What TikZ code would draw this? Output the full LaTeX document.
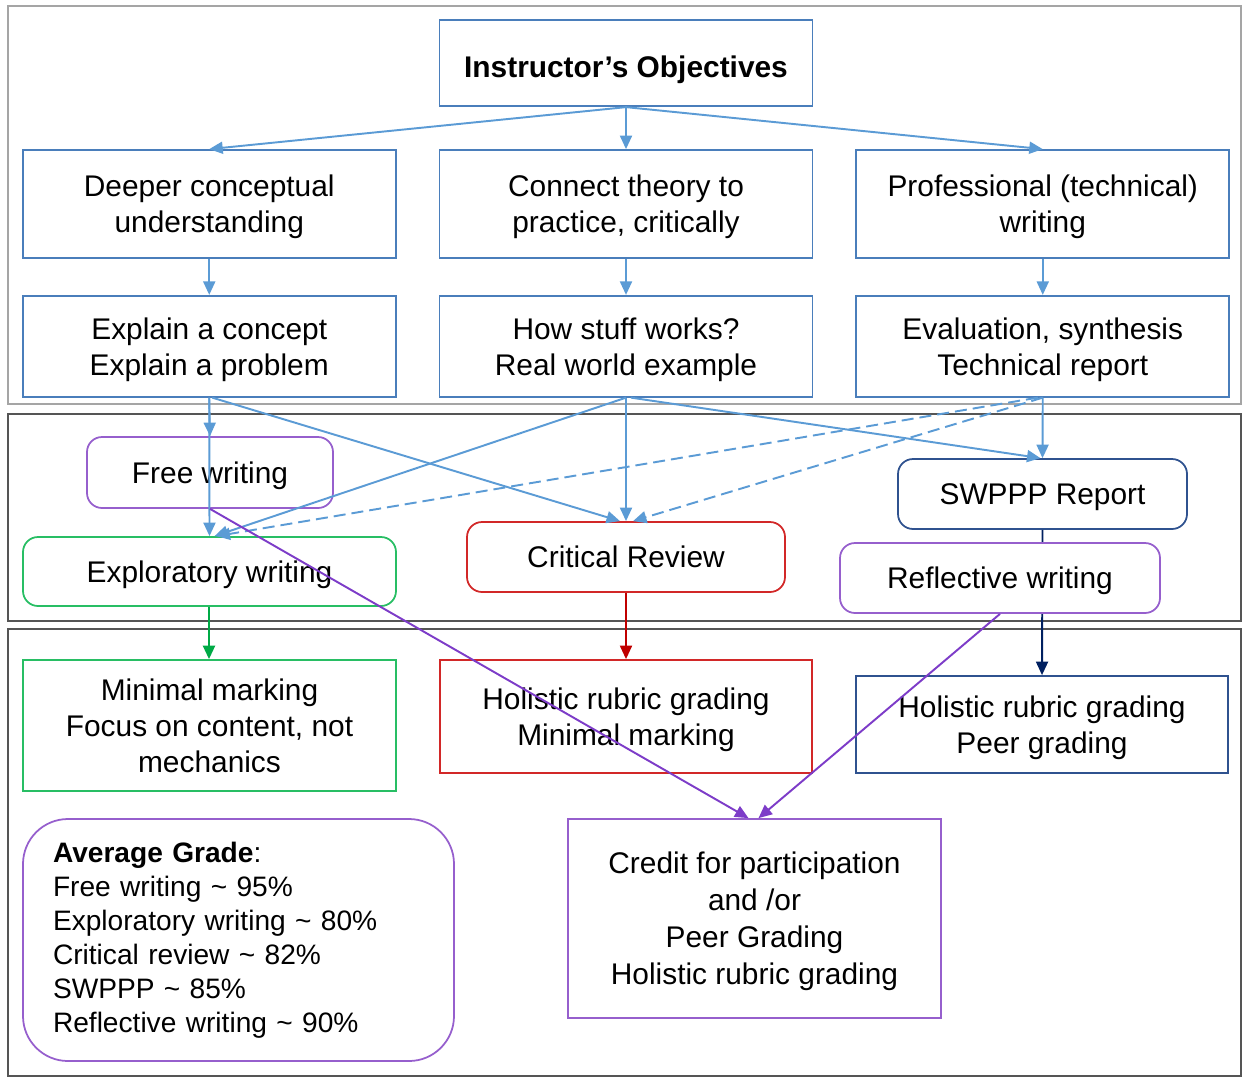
\documentclass[tikz,border=0pt]{standalone}
\usepackage{fontspec}
\setmainfont{Liberation Sans}
\usepackage{xcolor}
\usetikzlibrary{arrows.meta,positioning}

\definecolor{objblue}{RGB}{74,126,187}
\definecolor{arrowblue}{RGB}{91,155,213}
\definecolor{writepurple}{RGB}{150,95,205}
\definecolor{edgepurple}{RGB}{125,60,200}
\definecolor{explgreen}{RGB}{40,190,100}
\definecolor{edgegreen}{RGB}{0,170,70}
\definecolor{critred}{RGB}{210,40,40}
\definecolor{edgered}{RGB}{192,0,0}
\definecolor{swpppnavy}{RGB}{47,82,143}
\definecolor{edgenavy}{RGB}{0,32,96}
\definecolor{panellight}{RGB}{165,165,165}
\definecolor{paneldark}{RGB}{85,85,85}

\begin{document}
\begin{tikzpicture}[
    node distance=0.84cm,
    box/.style={rectangle, draw=objblue, line width=1pt, minimum width=7.46cm, minimum height=2.16cm, align=center, inner sep=2pt, text depth=0pt, font=\fontsize{17}{20.4}\selectfont},
    rbox/.style={box, rounded corners=0.3cm, minimum height=1.4cm},
    panel/.style={draw=paneldark, line width=1.1pt},
    edge/.style={-{Triangle[width=0.24cm,length=0.27cm]}, line width=1.1pt, draw=arrowblue},
    dashedge/.style={edge, dash pattern=on 0.24cm off 0.12cm}
]
    \useasboundingbox (0,0) rectangle (24.86,-21.56);
    % three panels
    \draw[panel, draw=panellight] (0.16,-0.12) rectangle (24.82,-8.08);
    \draw[panel] (0.16,-8.28) rectangle (24.82,-12.42);
    \draw[panel] (0.16,-12.58) rectangle (24.82,-21.52);

    % objectives
    \node[box] (conn) at (12.52,-4.08) {Connect theory to\\practice, critically};
    \node[box, left=of conn] (deep) {Deeper conceptual\\understanding};
    \node[box, right=of conn] (prof) {Professional (technical)\\writing};
    \node[box, minimum height=1.72cm, text height=0.57cm, above=0.84cm of conn, font=\fontsize{17}{20.4}\selectfont\bfseries] (obj) {Instructor's Objectives};
    \node[box, minimum height=2.02cm, below=0.72cm of deep] (expl) {Explain a concept\\Explain a problem};
    \node[box, minimum height=2.02cm, below=0.72cm of conn] (how) {How stuff works?\\Real world example};
    \node[box, minimum height=2.02cm, below=0.72cm of prof] (eval) {Evaluation, synthesis\\Technical report};

    % assignments
    \node[rbox, draw=writepurple, minimum width=4.92cm, minimum height=1.42cm] (free) at (4.20,-9.45) {Free writing};
    \node[rbox, draw=explgreen, minimum height=1.38cm] (explor) at (4.19,-11.43) {Exploratory writing};
    \node[rbox, draw=critred, minimum width=6.36cm] (crit) at (12.52,-11.14) {Critical Review};
    \node[rbox, draw=swpppnavy, minimum width=5.78cm] (swppp) at (20.85,-9.88) {SWPPP Report};

    % grading
    \node[box, draw=explgreen, minimum height=2.62cm] (minmark) at (4.19,-14.51) {Minimal marking\\Focus on content, not\\mechanics};
    \node[box, draw=critred, minimum width=7.44cm, minimum height=2.26cm] (holred) at (12.52,-14.33) {Holistic rubric grading\\Minimal marking};
    \node[box, draw=swpppnavy, minimum width=7.44cm, minimum height=1.94cm] (holblue) at (20.84,-14.49) {Holistic rubric grading\\Peer grading};
    \node[box, draw=writepurple, minimum height=3.98cm, font=\fontsize{17}{21}\selectfont] (credit) at (15.09,-18.37) {Credit for participation\\and /or\\Peer Grading\\Holistic rubric grading};
    \node[box, draw=writepurple, rounded corners=0.9cm, minimum width=8.62cm, minimum height=4.84cm, text width=7.42cm, text depth={}, inner xsep=0.6cm, align=left, font=\fontsize{16}{19.3}\selectfont] (avg) at (4.77,-18.80) {\textbf{Average Grade}:\\Free writing \textasciitilde{} 95\%\\Exploratory writing \textasciitilde{} 80\%\\Critical review \textasciitilde{} 82\%\\SWPPP \textasciitilde{} 85\%\\Reflective writing \textasciitilde{} 90\%};

    \draw[edge] (obj.south) -- (deep.north);
    \draw[edge] (obj.south) -- (conn.north);
    \draw[edge] (obj.south) -- (prof.north);
    \draw[edge] (deep) -- (expl);
    \draw[edge] (conn) -- (how);
    \draw[edge] (prof) -- (eval);

    \draw[edge] (expl.south) -- (free.north);
    \draw[edge] (expl.south) -- (explor.north);
    \draw[edge] ([xshift=0.06cm]expl.south) -- ([xshift=-0.12cm]crit.north);
    \draw[edge] (how.south) -- ([xshift=0.1cm]explor.north);
    \draw[edge] (how.south) -- (crit.north);
    \draw[edge] ([xshift=0.1cm]how.south) -- ([xshift=-0.04cm]swppp.north);
    \draw[edge] (eval.south) -- (swppp.north);
    \draw[dashedge] ([xshift=-0.1cm]eval.south) -- ([xshift=0.14cm]explor.north);
    \draw[dashedge] (eval.south) -- ([xshift=0.14cm]crit.north);

    \draw[edge, draw=edgegreen, edgegreen, line width=1.3pt] ([xshift=-0.01cm]explor.south) -- ([xshift=-0.01cm]minmark.north);
    \draw[edge, draw=edgered, edgered] (crit.south) -- (holred.north);
    \draw[edge, draw=edgenavy, edgenavy] (swppp.south) -- (holblue.north);

    % reflective writing sits over the navy line
    \node[rbox, draw=writepurple, fill=white, minimum width=6.4cm] (refl) at (20.00,-11.56) {Reflective writing};

    \draw[edge, draw=edgepurple, edgepurple] (free.south) -- ([xshift=-0.12cm]credit.north);
    \draw[edge, draw=edgepurple, edgepurple] (refl.south) -- ([xshift=0.08cm]credit.north);
\end{tikzpicture}
\end{document}
